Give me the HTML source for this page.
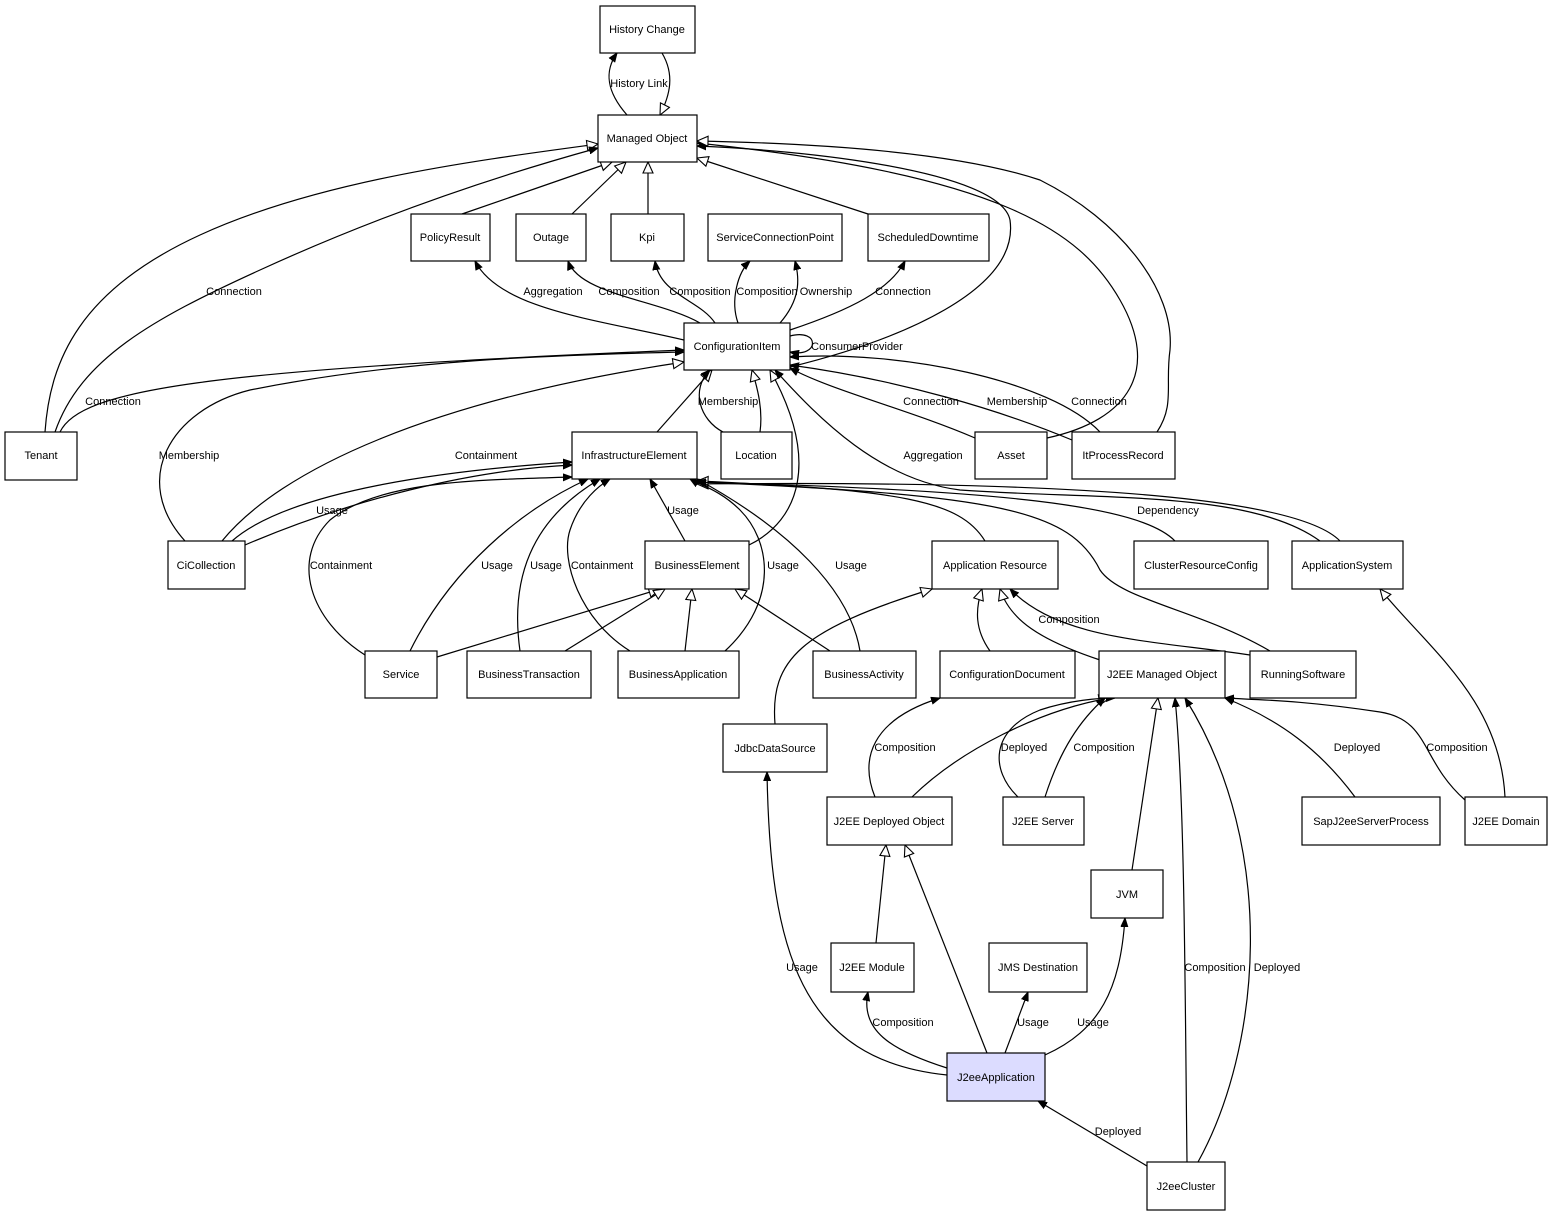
<!DOCTYPE html>
<html><head><meta charset="utf-8"><style>
html,body{margin:0;padding:0;background:#fff;}
svg{display:block;}
text{font-family:"Liberation Sans",Arial,sans-serif;font-size:11px;fill:#000;}
.n{fill:#fff;stroke:#000;stroke-width:1.2;}
.e{fill:none;stroke:#000;stroke-width:1.2;}
</style></head><body>
<svg width="1553" height="1217" viewBox="0 0 1553 1217" xmlns="http://www.w3.org/2000/svg">
<defs>
<marker id="f" markerUnits="userSpaceOnUse" markerWidth="10" markerHeight="8" refX="9" refY="4" orient="auto"><path d="M0,0.5 L9,4 L0,7.5 z" fill="#000" stroke="#000"/></marker>
<marker id="h" markerUnits="userSpaceOnUse" markerWidth="13" markerHeight="12" refX="12" refY="6" orient="auto"><path d="M1,1 L12,6 L1,11 z" fill="#fff" stroke="#000" stroke-width="1.1"/></marker>
</defs>
<g class="e">
<path marker-end="url(#f)" d="M627,115 C605,90 605,70 617,53"/>
<path marker-end="url(#h)" d="M662,53 C675,75 670,95 660,115"/>
<path marker-end="url(#h)" d="M462,214 L612,162"/>
<path marker-end="url(#h)" d="M572,214 L626,162"/>
<path marker-end="url(#h)" d="M648,214 L648,162"/>
<path marker-end="url(#h)" d="M868,214 L697,158"/>
<path marker-end="url(#h)" d="M45,432 C50,360 80,290 200,235 C320,180 480,160 598,144"/>
<path marker-end="url(#f)" d="M55,432 C80,360 150,320 260,270 C380,215 500,175 598,148"/>
<path marker-end="url(#f)" d="M790,367 C900,340 1020,290 1010,220 C1000,170 800,150 697,146"/>
<path marker-end="url(#f)" d="M1047,438 C1130,420 1160,370 1120,300 C1080,230 1000,175 697,143"/>
<path marker-end="url(#h)" d="M1157,432 C1175,405 1165,385 1170,350 C1175,290 1120,220 1040,180 C950,150 800,143 697,141"/>
<path marker-end="url(#f)" d="M684,340 C600,320 500,310 475,261"/>
<path marker-end="url(#f)" d="M700,323 C660,300 580,295 568,261"/>
<path marker-end="url(#f)" d="M715,323 C700,300 660,295 655,261"/>
<path marker-end="url(#f)" d="M738,323 C730,300 738,272 750,261"/>
<path marker-end="url(#f)" d="M780,323 C800,300 800,280 795,261"/>
<path marker-end="url(#f)" d="M790,330 C850,310 890,290 905,261"/>
<path marker-end="url(#f)" d="M790,336 C820,328 820,358 790,352"/>
<path marker-end="url(#f)" d="M60,432 C80,390 200,370 684,350"/>
<path marker-end="url(#f)" d="M185,541 C130,480 170,410 250,390 C400,360 550,355 684,352"/>
<path marker-end="url(#h)" d="M222,541 C280,470 430,400 684,362"/>
<path marker-end="url(#f)" d="M232,541 C290,490 450,470 572,462"/>
<path marker-end="url(#f)" d="M245,545 C350,500 470,470 572,465"/>
<path marker-end="url(#h)" d="M657,432 L712,370"/>
<path marker-end="url(#f)" d="M723,432 C700,420 690,390 710,370"/>
<path marker-end="url(#h)" d="M760,432 C763,410 758,390 752,370"/>
<path marker-end="url(#h)" d="M749,545 C800,520 820,460 770,370"/>
<path marker-end="url(#f)" d="M975,438 C910,410 830,390 790,368"/>
<path marker-end="url(#f)" d="M1072,440 C1000,410 900,380 790,365"/>
<path marker-end="url(#f)" d="M1100,432 C1050,380 900,350 790,357"/>
<path marker-end="url(#f)" d="M1320,541 C1250,490 1100,500 960,490 C880,480 820,420 775,370"/>
<path marker-end="url(#f)" d="M1175,541 C1140,505 1000,490 697,482"/>
<path marker-end="url(#h)" d="M1340,541 C1300,500 1100,480 697,484"/>
<path marker-end="url(#h)" d="M985,541 C960,500 900,490 697,481"/>
<path marker-end="url(#f)" d="M1270,651 C1200,610 1120,600 1100,570 C1070,510 1000,495 697,482"/>
<path marker-end="url(#f)" d="M1250,655 C1150,640 1060,640 1010,589"/>
<path marker-end="url(#h)" d="M1100,660 C1040,640 1010,620 1000,589"/>
<path marker-end="url(#h)" d="M990,651 C975,630 975,610 982,589"/>
<path marker-end="url(#h)" d="M775,724 C770,660 800,630 932,589"/>
<path marker-end="url(#f)" d="M685,541 L650,479"/>
<path marker-end="url(#f)" d="M365,655 C310,620 290,560 330,520 C380,480 480,480 572,477"/>
<path marker-end="url(#f)" d="M410,651 C450,570 520,510 588,479"/>
<path marker-end="url(#f)" d="M520,651 C510,580 530,520 600,479"/>
<path marker-end="url(#f)" d="M630,651 C580,620 560,560 570,530 C580,500 600,485 610,479"/>
<path marker-end="url(#f)" d="M725,651 C780,600 770,540 740,510 C720,490 700,485 690,479"/>
<path marker-end="url(#f)" d="M860,651 C850,590 790,530 697,479"/>
<path marker-end="url(#h)" d="M437,657 L660,589"/>
<path marker-end="url(#h)" d="M565,651 L665,589"/>
<path marker-end="url(#h)" d="M685,651 L692,589"/>
<path marker-end="url(#h)" d="M830,651 L735,589"/>
<path marker-end="url(#f)" d="M875,797 C860,760 870,720 940,698"/>
<path marker-end="url(#h)" d="M912,797 C960,750 1040,710 1110,698"/>
<path marker-end="url(#f)" d="M1018,797 C990,770 990,730 1040,710 C1070,700 1100,698 1115,698"/>
<path marker-end="url(#f)" d="M1045,797 C1060,750 1080,720 1105,698"/>
<path marker-end="url(#h)" d="M1132,870 L1158,698"/>
<path marker-end="url(#f)" d="M1187,1162 C1185,1000 1185,800 1175,698"/>
<path marker-end="url(#f)" d="M1198,1162 C1260,1050 1280,850 1185,698"/>
<path marker-end="url(#f)" d="M1355,797 C1320,750 1280,720 1225,698"/>
<path marker-end="url(#f)" d="M1465,800 C1420,760 1430,720 1380,712 C1300,700 1260,700 1225,698"/>
<path marker-end="url(#h)" d="M1505,797 C1500,700 1430,650 1380,589"/>
<path marker-end="url(#h)" d="M876,943 L886,845"/>
<path marker-end="url(#h)" d="M987,1053 L905,845"/>
<path marker-end="url(#f)" d="M947,1068 C890,1050 860,1030 868,992"/>
<path marker-end="url(#f)" d="M1005,1053 L1028,992"/>
<path marker-end="url(#f)" d="M1045,1055 C1100,1030 1120,990 1125,918"/>
<path marker-end="url(#f)" d="M947,1075 C800,1060 770,950 767,772"/>
<path marker-end="url(#f)" d="M1147,1166 L1038,1101"/>
</g>
<g>
<rect class="n" x="600" y="6" width="95" height="47"/>
<rect class="n" x="598" y="115" width="99" height="47"/>
<rect class="n" x="411" y="214" width="79" height="47"/>
<rect class="n" x="516" y="214" width="70" height="47"/>
<rect class="n" x="611" y="214" width="73" height="47"/>
<rect class="n" x="708" y="214" width="134" height="47"/>
<rect class="n" x="868" y="214" width="121" height="47"/>
<rect class="n" x="684" y="323" width="106" height="47"/>
<rect class="n" x="5" y="432" width="72" height="48"/>
<rect class="n" x="572" y="432" width="125" height="47"/>
<rect class="n" x="721" y="432" width="71" height="47"/>
<rect class="n" x="975" y="432" width="72" height="47"/>
<rect class="n" x="1072" y="432" width="103" height="47"/>
<rect class="n" x="168" y="541" width="77" height="48"/>
<rect class="n" x="645" y="541" width="104" height="48"/>
<rect class="n" x="932" y="541" width="126" height="48"/>
<rect class="n" x="1134" y="541" width="134" height="48"/>
<rect class="n" x="1292" y="541" width="111" height="48"/>
<rect class="n" x="365" y="651" width="72" height="47"/>
<rect class="n" x="467" y="651" width="124" height="47"/>
<rect class="n" x="618" y="651" width="121" height="47"/>
<rect class="n" x="813" y="651" width="103" height="47"/>
<rect class="n" x="940" y="651" width="135" height="47"/>
<rect class="n" x="1099" y="651" width="126" height="47"/>
<rect class="n" x="1250" y="651" width="106" height="47"/>
<rect class="n" x="723" y="724" width="104" height="48"/>
<rect class="n" x="827" y="797" width="125" height="48"/>
<rect class="n" x="1003" y="797" width="81" height="48"/>
<rect class="n" x="1302" y="797" width="138" height="48"/>
<rect class="n" x="1465" y="797" width="82" height="48"/>
<rect class="n" x="1091" y="870" width="72" height="48"/>
<rect class="n" x="831" y="943" width="83" height="49"/>
<rect class="n" x="989" y="943" width="98" height="49"/>
<rect class="n" x="947" y="1053" width="98" height="48" style="fill:#dcdcff"/>
<rect class="n" x="1147" y="1162" width="78" height="48"/>
</g>
<g text-anchor="middle">
<text x="647" y="33">History Change</text>
<text x="647" y="142">Managed Object</text>
<text x="450" y="241">PolicyResult</text>
<text x="551" y="241">Outage</text>
<text x="647" y="241">Kpi</text>
<text x="775" y="241">ServiceConnectionPoint</text>
<text x="928" y="241">ScheduledDowntime</text>
<text x="737" y="350">ConfigurationItem</text>
<text x="41" y="459">Tenant</text>
<text x="634" y="459">InfrastructureElement</text>
<text x="756" y="459">Location</text>
<text x="1011" y="459">Asset</text>
<text x="1123" y="459">ItProcessRecord</text>
<text x="206" y="569">CiCollection</text>
<text x="697" y="569">BusinessElement</text>
<text x="995" y="569">Application Resource</text>
<text x="1201" y="569">ClusterResourceConfig</text>
<text x="1347" y="569">ApplicationSystem</text>
<text x="401" y="678">Service</text>
<text x="529" y="678">BusinessTransaction</text>
<text x="678" y="678">BusinessApplication</text>
<text x="864" y="678">BusinessActivity</text>
<text x="1007" y="678">ConfigurationDocument</text>
<text x="1162" y="678">J2EE Managed Object</text>
<text x="1303" y="678">RunningSoftware</text>
<text x="775" y="752">JdbcDataSource</text>
<text x="889" y="825">J2EE Deployed Object</text>
<text x="1043" y="825">J2EE Server</text>
<text x="1371" y="825">SapJ2eeServerProcess</text>
<text x="1506" y="825">J2EE Domain</text>
<text x="1127" y="898">JVM</text>
<text x="872" y="971">J2EE Module</text>
<text x="1038" y="971">JMS Destination</text>
<text x="996" y="1081">J2eeApplication</text>
<text x="1186" y="1190">J2eeCluster</text>
<text x="639" y="87">History Link</text>
<text x="234" y="295">Connection</text>
<text x="553" y="295">Aggregation</text>
<text x="629" y="295">Composition</text>
<text x="700" y="295">Composition</text>
<text x="767" y="295">Composition</text>
<text x="826" y="295">Ownership</text>
<text x="903" y="295">Connection</text>
<text x="857" y="350">ConsumerProvider</text>
<text x="113" y="405">Connection</text>
<text x="728" y="405">Membership</text>
<text x="931" y="405">Connection</text>
<text x="1017" y="405">Membership</text>
<text x="1099" y="405">Connection</text>
<text x="189" y="459">Membership</text>
<text x="486" y="459">Containment</text>
<text x="933" y="459">Aggregation</text>
<text x="332" y="514">Usage</text>
<text x="683" y="514">Usage</text>
<text x="1168" y="514">Dependency</text>
<text x="341" y="569">Containment</text>
<text x="497" y="569">Usage</text>
<text x="546" y="569">Usage</text>
<text x="602" y="569">Containment</text>
<text x="783" y="569">Usage</text>
<text x="851" y="569">Usage</text>
<text x="1069" y="623">Composition</text>
<text x="905" y="751">Composition</text>
<text x="1024" y="751">Deployed</text>
<text x="1104" y="751">Composition</text>
<text x="1357" y="751">Deployed</text>
<text x="1457" y="751">Composition</text>
<text x="802" y="971">Usage</text>
<text x="1215" y="971">Composition</text>
<text x="1277" y="971">Deployed</text>
<text x="903" y="1026">Composition</text>
<text x="1033" y="1026">Usage</text>
<text x="1093" y="1026">Usage</text>
<text x="1118" y="1135">Deployed</text>
</g>
</svg>
</body></html>
